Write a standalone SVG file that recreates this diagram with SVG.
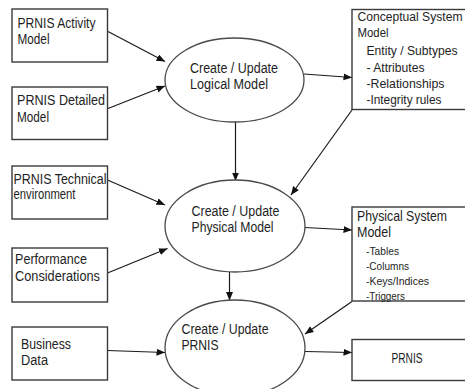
<svg xmlns="http://www.w3.org/2000/svg" width="465" height="389" viewBox="0 0 465 389">
  <style>
    .box { fill: #ffffff; stroke: #3a3a3a; stroke-width: 1.4; }
    .proc { fill: #ffffff; stroke: #4a4a4a; stroke-width: 1.3; }
    .lbl { font-family: "Liberation Sans", Arial, sans-serif; fill: #1e1e24; }
    .t13 { font-size: 14px; }
    .t14 { font-size: 15.5px; }
    .t14b { font-size: 14.5px; }
    .t12 { font-size: 13px; }
    .t12a { font-size: 12.3px; }
    .t11 { font-size: 11.5px; }
    .edge { fill: none; stroke: #1a1a1a; stroke-width: 1.2; marker-end: url(#arrow); }
  </style>
  <defs>
    <marker id="arrow" markerUnits="userSpaceOnUse" markerWidth="9" markerHeight="8" refX="8.5" refY="3.5" orient="auto">
      <path d="M0,0 L8.5,3.5 L0,7 z" fill="#111111"/>
    </marker>
  </defs>
  <rect width="465" height="389" fill="#ffffff"/>

  <!-- connectors -->
  <g id="connectors">
    <line class="edge" x1="108" y1="31.5" x2="165" y2="61.5"/>
    <line class="edge" x1="108" y1="108.5" x2="165" y2="86"/>
    <line class="edge" x1="304" y1="74" x2="352" y2="77.5"/>
    <line class="edge" x1="235.5" y1="122" x2="235.5" y2="181"/>
    <line class="edge" x1="352" y1="110" x2="291" y2="195"/>
    <line class="edge" x1="107.5" y1="180" x2="165" y2="205"/>
    <line class="edge" x1="107.5" y1="273" x2="167.5" y2="248.5"/>
    <line class="edge" x1="304.5" y1="227.5" x2="352" y2="230"/>
    <line class="edge" x1="229.5" y1="272" x2="229.5" y2="300.5"/>
    <line class="edge" x1="352" y1="301.5" x2="305" y2="334"/>
    <line class="edge" x1="107.5" y1="350.5" x2="165" y2="352.5"/>
    <line class="edge" x1="305" y1="351.5" x2="352" y2="352.5"/>
  </g>

  <!-- input boxes -->
  <g id="activity-model">
    <rect class="box" x="12" y="9" width="95.5" height="53"/>
    <text class="lbl t13" x="17.5" y="27.5" textLength="78" lengthAdjust="spacingAndGlyphs">PRNIS Activity</text>
    <text class="lbl t13" x="17.5" y="43.5" textLength="32" lengthAdjust="spacingAndGlyphs">Model</text>
  </g>
  <g id="detailed-model">
    <rect class="box" x="12" y="87" width="95.5" height="52.5"/>
    <text class="lbl t13" x="17" y="105" textLength="88" lengthAdjust="spacingAndGlyphs">PRNIS Detailed</text>
    <text class="lbl t13" x="17" y="121.5" textLength="32" lengthAdjust="spacingAndGlyphs">Model</text>
  </g>
  <g id="technical-env">
    <rect class="box" x="12" y="166" width="95.5" height="53"/>
    <text class="lbl t13" x="13.5" y="183.5" textLength="93" lengthAdjust="spacingAndGlyphs">PRNIS Technical</text>
    <text class="lbl t13" x="13.5" y="199" textLength="62" lengthAdjust="spacingAndGlyphs">environment</text>
  </g>
  <g id="performance">
    <rect class="box" x="12" y="248" width="95.5" height="54"/>
    <text class="lbl t13" x="15" y="264" textLength="72" lengthAdjust="spacingAndGlyphs">Performance</text>
    <text class="lbl t13" x="15" y="280.5" textLength="85" lengthAdjust="spacingAndGlyphs">Considerations</text>
  </g>
  <g id="business-data">
    <rect class="box" x="12" y="327" width="95.5" height="53"/>
    <text class="lbl t13" x="21" y="348.5" textLength="50" lengthAdjust="spacingAndGlyphs">Business</text>
    <text class="lbl t13" x="21" y="365" textLength="27" lengthAdjust="spacingAndGlyphs">Data</text>
  </g>

  <!-- processes -->
  <g id="logical-process">
    <ellipse class="proc" cx="234.5" cy="80" rx="69.5" ry="42"/>
    <text class="lbl t14" x="190" y="73" textLength="88" lengthAdjust="spacingAndGlyphs">Create / Update</text>
    <text class="lbl t14" x="190" y="88.5" textLength="78" lengthAdjust="spacingAndGlyphs">Logical Model</text>
  </g>
  <g id="physical-process">
    <ellipse class="proc" cx="235" cy="226" rx="70" ry="46"/>
    <text class="lbl t14" x="191.5" y="215.5" textLength="88" lengthAdjust="spacingAndGlyphs">Create / Update</text>
    <text class="lbl t14" x="191.5" y="232" textLength="82" lengthAdjust="spacingAndGlyphs">Physical Model</text>
  </g>
  <g id="prnis-process">
    <ellipse class="proc" cx="235" cy="348" rx="70" ry="48"/>
    <text class="lbl t14" x="181.5" y="333.5" textLength="87" lengthAdjust="spacingAndGlyphs">Create / Update</text>
    <text class="lbl t14" x="181.5" y="350" textLength="37" lengthAdjust="spacingAndGlyphs">PRNIS</text>
  </g>

  <!-- output boxes -->
  <g id="conceptual-model">
    <rect class="box" x="352" y="9.5" width="120" height="100"/>
    <text class="lbl t12a" x="357.5" y="20.5" textLength="105" lengthAdjust="spacingAndGlyphs">Conceptual System</text>
    <text class="lbl t12" x="357.5" y="37" textLength="31" lengthAdjust="spacingAndGlyphs">Model</text>
    <text class="lbl t12" x="366.5" y="54.5" textLength="91" lengthAdjust="spacingAndGlyphs">Entity / Subtypes</text>
    <text class="lbl t12" x="366.5" y="71.5" textLength="58" lengthAdjust="spacingAndGlyphs">- Attributes</text>
    <text class="lbl t12" x="366.5" y="87.5" textLength="78" lengthAdjust="spacingAndGlyphs">-Relationships</text>
    <text class="lbl t12" x="366.5" y="103.5" textLength="75" lengthAdjust="spacingAndGlyphs">-Integrity rules</text>
  </g>
  <g id="physical-model">
    <rect class="box" x="352" y="207" width="120" height="94"/>
    <text class="lbl t14b" x="357" y="221" textLength="90" lengthAdjust="spacingAndGlyphs">Physical System</text>
    <text class="lbl t14b" x="357" y="237" textLength="34" lengthAdjust="spacingAndGlyphs">Model</text>
    <text class="lbl t11" x="366" y="255" textLength="33" lengthAdjust="spacingAndGlyphs">-Tables</text>
    <text class="lbl t11" x="366" y="270" textLength="43" lengthAdjust="spacingAndGlyphs">-Columns</text>
    <text class="lbl t11" x="366" y="285" textLength="63" lengthAdjust="spacingAndGlyphs">-Keys/Indices</text>
    <text class="lbl t11" x="366" y="299.5" textLength="39" lengthAdjust="spacingAndGlyphs">-Triggers</text>
  </g>
  <g id="prnis-output">
    <rect class="box" x="352" y="339.5" width="120" height="41"/>
    <text class="lbl t13" x="391.5" y="362.5" textLength="31" lengthAdjust="spacingAndGlyphs">PRNIS</text>
  </g>
</svg>
